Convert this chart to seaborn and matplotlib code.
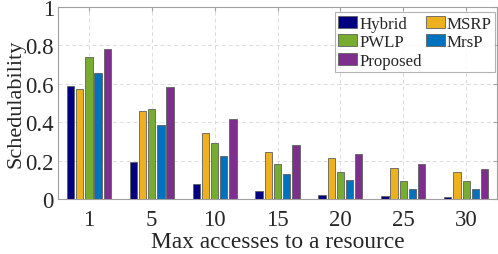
import numpy as np
import pandas as pd
import seaborn as sns
import matplotlib as mpl
mpl.use('Agg')
import matplotlib.pyplot as plt

# data
accesses = ['1', '5', '10', '15', '20', '25', '30']
methods = ['Hybrid', 'MSRP', 'PWLP', 'MrsP', 'Proposed']
hybrid   = [0.589, 0.195, 0.080, 0.043, 0.021, 0.016, 0.010]
msrp     = [0.575, 0.457, 0.343, 0.245, 0.212, 0.160, 0.141]
pwlp     = [0.739, 0.471, 0.290, 0.184, 0.141, 0.095, 0.094]
mrsp     = [0.657, 0.383, 0.226, 0.129, 0.097, 0.052, 0.054]
proposed = [0.781, 0.584, 0.419, 0.283, 0.235, 0.184, 0.157]
colors = ['#000080', '#EDB120', '#77AC30', '#0072BD', '#7E2F8E']

vals = [hybrid, msrp, pwlp, mrsp, proposed]
rows = []
for m, v in zip(methods, vals):
    for a, y in zip(accesses, v):
        rows.append([a, m, y])
df = pd.DataFrame(rows, columns=['access', 'method', 'sched'])

sns.set_style('white')
plt.rcParams['font.family'] = ['Liberation Serif', 'DejaVu Serif']

fig = plt.figure(figsize=(4.98, 2.55), dpi=100)
ax = fig.add_axes([0.1165, 0.2157, 0.8815, 0.753])
sns.barplot(data=df, x='access', y='sched', hue='method', order=accesses,
            hue_order=methods, palette=colors, saturation=1, width=0.73, gap=0.2,
            edgecolor='#606060', linewidth=0.6, ax=ax, legend=True)

ax.set_xlim(-0.49, 6.49)
ax.set_ylim(0, 1)
ax.set_yticks([0, 0.2, 0.4, 0.6, 0.8, 1])
ax.set_yticklabels(['0', '0.2', '0.4', '0.6', '0.8', '1'])
ax.grid(True, linestyle=(0, (4, 3)), color='#dcdcdc', linewidth=0.7)
ax.set_axisbelow(True)
for s in ax.spines.values():
    s.set_visible(True)
    s.set_color('#a0a0a0')
    s.set_linewidth(0.8)
ax.tick_params(direction='in', length=3, top=True, right=True,
               colors='#a0a0a0', labelcolor='#262626', labelsize=16.5)
ax.tick_params(axis='y', pad=3)
ax.tick_params(axis='x', pad=7)
ax.set_xlabel('Max accesses to a resource', fontsize=16.8, color='#262626', labelpad=1)
ax.set_ylabel('Schedulability', fontsize=16, color='#262626', labelpad=0)

h, l = ax.get_legend_handles_labels()
idx = [0, 2, 4, 1, 3]
leg = ax.legend([h[i] for i in idx], [l[i] for i in idx], ncol=2, loc='upper right',
                bbox_to_anchor=(0.995, 0.972), fontsize=12.2, frameon=True, fancybox=False,
                handlelength=1.1, handleheight=0.7, handletextpad=0.12,
                columnspacing=0.25, labelspacing=0.15, borderpad=0.2, borderaxespad=0.0)
leg.get_frame().set_edgecolor('#a0a0a0')
leg.get_frame().set_linewidth(0.8)

plt.savefig('out.png', dpi=100)
